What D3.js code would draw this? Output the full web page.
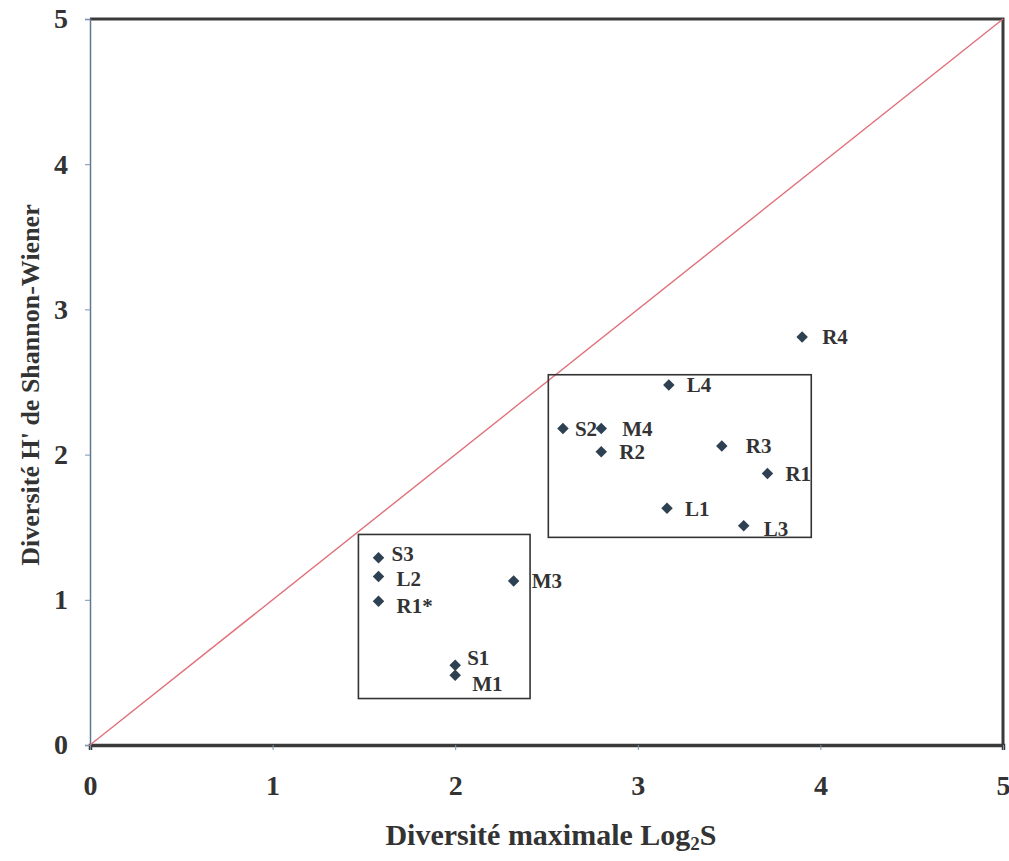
<!DOCTYPE html>
<html>
<head>
<meta charset="utf-8">
<script src="https://cdn.jsdelivr.net/npm/d3@7/dist/d3.min.js"></script>
<style>
  body { margin: 0; background: #fff; }
  svg text { font-family: "Liberation Serif", "Times New Roman", "DejaVu Serif", serif; font-weight: bold; fill: #333; }
</style>
</head>
<body>
<div id="graph"></div>
<script>
/*******************************************************************************
* Data
*******************************************************************************/
var stations = ["R4", "L4", "S2", "M4", "R2", "R3", "R1", "L1", "L3",
                "S3", "L2", "R1*", "M3", "S1", "M1"];
var log2S    = [3.90, 3.17, 2.59, 2.80, 2.80, 3.46, 3.71, 3.16, 3.58,
                1.58, 1.58, 1.58, 2.32, 2.00, 2.00];
var shannonH = [2.81, 2.48, 2.18, 2.18, 2.02, 2.06, 1.87, 1.63, 1.51,
                1.29, 1.16, 0.99, 1.13, 0.55, 0.48];
var xTicks = [0, 1, 2, 3, 4, 5];
var yTicks = [0, 1, 2, 3, 4, 5];
// groups drawn as rectangles: [x0, x1, y0, y1] in data units
var groupBoxes = [[2.51, 3.95, 1.43, 2.55], [1.47, 2.41, 0.32, 1.45]];

var points = stations.map(function (s, i) {
  return { name: s, x: log2S[i], y: shannonH[i] };
});

/*******************************************************************************
* Svg Container
*******************************************************************************/
var fullWidth = 1009, fullHeight = 861;
var margin = { top: 19, right: 6, bottom: 116, left: 90 };
var serif = "'Liberation Serif', 'Times New Roman', 'DejaVu Serif', serif";

var svg = d3.select("#graph").append("svg")
  .attr("width", fullWidth)
  .attr("height", fullHeight);

var x = d3.scaleLinear().domain([0, 5]).range([margin.left, fullWidth - margin.right]);
var y = d3.scaleLinear().domain([0, 5]).range([fullHeight - margin.bottom, margin.top]);

/*******************************************************************************
* Frame and axes
*******************************************************************************/
// top and right border
svg.append("path")
  .attr("d", "M" + x(0) + "," + y(5) + "H" + x(5) + "V" + y(0))
  .attr("fill", "none").attr("stroke", "#3a3a3a").attr("stroke-width", 3);

var xAxis = svg.append("g")
  .attr("transform", "translate(0," + y(0) + ")")
  .call(d3.axisBottom(x).tickValues(xTicks).tickSize(5).tickFormat(d3.format("d")));
xAxis.attr("font-family", serif);
xAxis.select(".domain").attr("stroke", "#3a3a3a").attr("stroke-width", 3.5);
xAxis.selectAll(".tick line").attr("stroke", "#7a96b0");
xAxis.selectAll(".tick text")
  .attr("y", 30).attr("dy", "0.71em")
  .style("font-size", "28px").attr("fill", "#333");

var yAxis = svg.append("g")
  .attr("transform", "translate(" + x(0) + ",0)")
  .call(d3.axisLeft(y).tickValues(yTicks).tickSize(5).tickFormat(d3.format("d")));
yAxis.attr("font-family", serif);
yAxis.select(".domain").attr("stroke", "#5f7890").attr("stroke-width", 1.5);
yAxis.selectAll(".tick line").attr("stroke", "#7a96b0");
yAxis.selectAll(".tick text")
  .attr("x", -22)
  .style("font-size", "28px").attr("fill", "#333");

/*******************************************************************************
* Diagonal H' = Log2S
*******************************************************************************/
svg.append("line")
  .attr("x1", x(0)).attr("y1", y(0))
  .attr("x2", x(5)).attr("y2", y(5))
  .attr("stroke", "#e0707a").attr("stroke-width", 1.4);

/*******************************************************************************
* Group boxes
*******************************************************************************/
svg.selectAll("rect.box")
  .data(groupBoxes)
  .enter()
  .append("rect")
  .attr("class", "box")
  .attr("x", function (d) { return x(d[0]); })
  .attr("y", function (d) { return y(d[3]); })
  .attr("width", function (d) { return x(d[1]) - x(d[0]); })
  .attr("height", function (d) { return y(d[2]) - y(d[3]); })
  .attr("fill", "none")
  .attr("stroke", "#333")
  .attr("stroke-width", 1.6);

/*******************************************************************************
* Points and labels
*******************************************************************************/
var diamond = d3.symbol().type(d3.symbolSquare).size(66);

svg.selectAll("path.pt")
  .data(points)
  .enter()
  .append("path")
  .attr("class", "pt")
  .attr("d", diamond)
  .attr("transform", function (d) { return "translate(" + x(d.x) + "," + y(d.y) + ") rotate(45)"; })
  .attr("fill", "#2e4152");

// label nudges in pixels (dx, dy) from the marker
var nudge = { "S2": [12, 0], "S3": [13, -4], "L2": [18, 2], "R1*": [18, 4],
              "S1": [12, -7], "M1": [17, 8],
              "R3": [24, 0], "M4": [21, 0], "R4": [20, 0], "L3": [20, 3] };

svg.selectAll("text.lbl")
  .data(points)
  .enter()
  .append("text")
  .attr("class", "lbl")
  .attr("x", function (d) { return x(d.x) + (nudge[d.name] ? nudge[d.name][0] : 18); })
  .attr("y", function (d) { return y(d.y) + (nudge[d.name] ? nudge[d.name][1] : 0); })
  .attr("dy", "0.35em")
  .style("font-size", "21px")
  .text(function (d) { return d.name; });

/*******************************************************************************
* Axis titles
*******************************************************************************/
var xt = svg.append("text")
  .attr("x", 551)
  .attr("y", 845)
  .attr("text-anchor", "middle")
  .style("font-size", "30px");
xt.append("tspan").text("Diversité maximale  Log");
xt.append("tspan").attr("dy", 5).style("font-size", "19px").text("2");
xt.append("tspan").attr("dy", -5).text("S");

svg.append("text")
  .attr("transform", "translate(39,385) rotate(-90)")
  .attr("text-anchor", "middle")
  .style("font-size", "26px")
  .text("Diversité H' de Shannon-Wiener");
</script>
</body>
</html>
